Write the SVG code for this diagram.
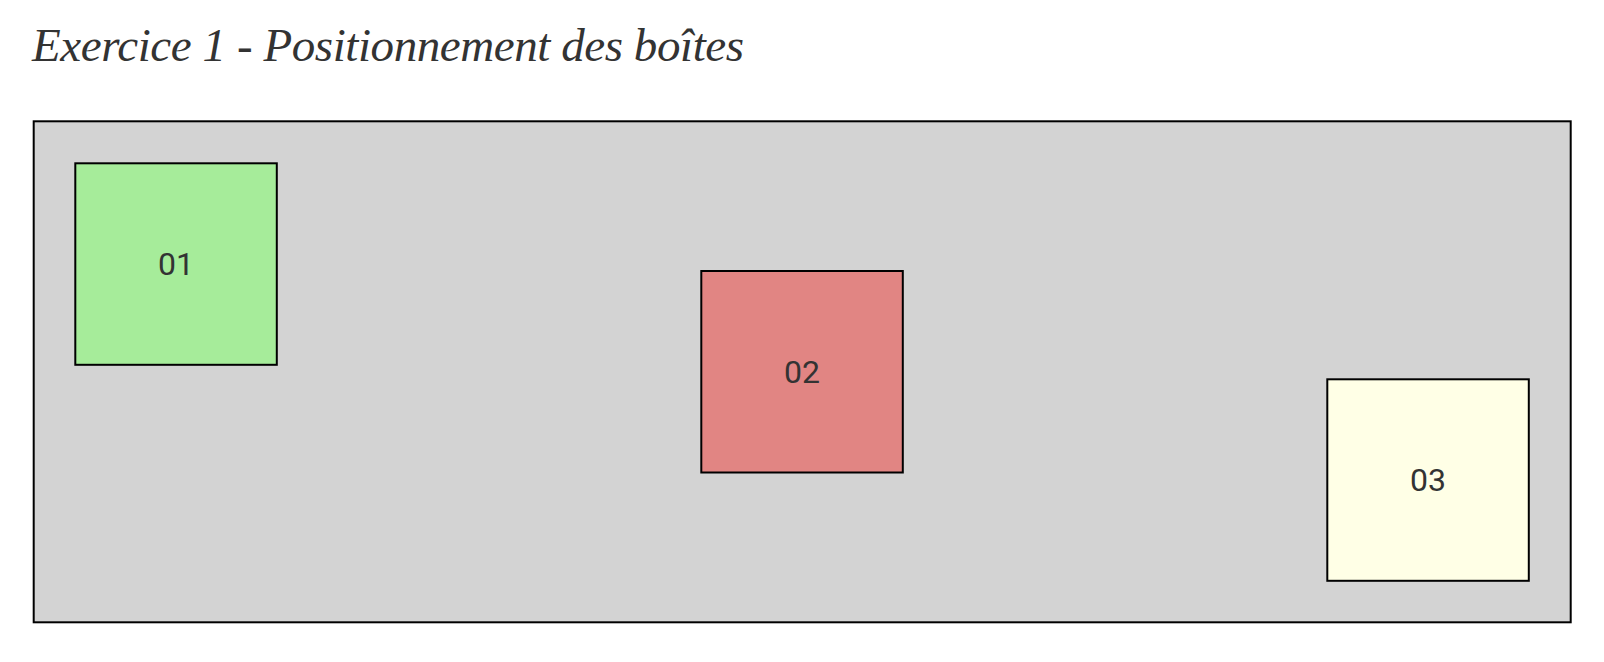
<svg xmlns="http://www.w3.org/2000/svg" width="1604" height="662" viewBox="0 0 1604 662">
  <style>
    .title { font-family: "Liberation Serif", "DejaVu Serif", serif; font-style: italic; font-size: 47px; fill: #333333; }
    .box { stroke: #000000; stroke-width: 2; }
    .label { font-family: Roboto, "Liberation Sans", sans-serif; font-size: 32px; fill: #333333; text-anchor: middle; dominant-baseline: central; }
  </style>
  <rect width="1604" height="662" fill="#ffffff"/>
  <text class="title" x="32" y="61" textLength="712" lengthAdjust="spacing">Exercice 1 - Positionnement des boîtes</text>
  <g id="container">
    <rect x="33.7" y="121.3" width="1537" height="501" fill="#d3d3d3" class="box"/>
  </g>
  <g id="box01">
    <rect x="75.3" y="163.3" width="201.5" height="201.5" fill="#a6ec9a" class="box"/>
    <text class="label" x="176" y="264">01</text>
  </g>
  <g id="box02">
    <rect x="701.3" y="271" width="201.5" height="201.5" fill="#e18583" class="box"/>
    <text class="label" x="802" y="372">02</text>
  </g>
  <g id="box03">
    <rect x="1327.3" y="379.3" width="201.5" height="201.5" fill="#ffffe6" class="box"/>
    <text class="label" x="1428" y="480">03</text>
  </g>
  <g id="connectors"/>
</svg>
